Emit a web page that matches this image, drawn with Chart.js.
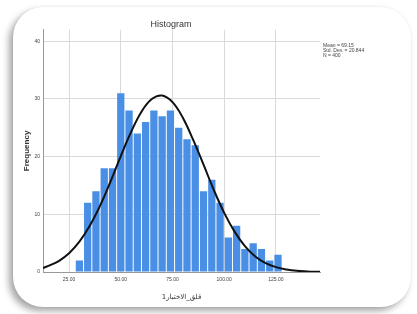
<!DOCTYPE html>
<html>
<head>
<meta charset="utf-8">
<script src="https://cdn.jsdelivr.net/npm/chart.js@4.4.0/dist/chart.umd.min.js"></script>
<style>
  html, body { margin: 0; padding: 0; background: #fff; }
  body { width: 417px; height: 314px; position: relative; overflow: hidden; }
  .card {
    position: absolute; left: 13px; top: 7px; width: 398px; height: 300px;
    background: #fff; border-radius: 30px;
    box-shadow: -4px 4px 7px rgba(0,0,0,0.35), 0 0 2px rgba(0,0,0,0.08);
  }
  #wrap { position: absolute; left: 0; top: 0; width: 417px; height: 314px; }
</style>
</head>
<body>
<div class="card"></div>
<div id="wrap"><canvas id="myChart"></canvas></div>
<script>
// histogram bins (centres) and counts
const binCentres = [30, 34, 38, 42, 46, 50, 54, 58, 62, 66, 70, 74, 78, 82, 86, 90, 94, 98, 102, 106, 110, 114, 118, 122, 126];
const counts = [2, 12, 14, 18, 18, 31, 28, 24, 26, 28, 27, 28, 25, 23, 22, 14, 16, 12, 6, 8, 4, 5, 4, 2, 3];

// normal curve
const curveX = [12.4, 15, 20, 25, 30, 35, 40, 45, 50, 55, 60, 65, 70, 75, 80, 85, 90, 95, 100, 105, 110, 115, 120, 125, 130, 135, 140, 146.3];
const curveY = [0.7, 1.05, 1.9, 3.25, 5.25, 8.0, 11.5, 15.65, 20.1, 24.3, 27.8, 30.0, 30.6, 29.45, 26.75, 22.9, 18.6, 14.2, 10.25, 7.0, 4.5, 2.7, 1.55, 0.85, 0.45, 0.2, 0.1, 0.03];

const xTicks = [25, 50, 75, 100, 125];
const statLines = ['Mean = 69.15', 'Std. Dev. = 20.844', 'N = 400'];

const statsBox = {
    id: 'statsBox',
    afterDraw(chart) {
        const ctx = chart.ctx;
        ctx.save();
        ctx.fillStyle = '#444';
        ctx.font = '5px "Liberation Sans", Arial, sans-serif';
        ctx.textBaseline = 'middle';
        statLines.forEach((t, i) => ctx.fillText(t, chart.chartArea.right + 3, 46 + i * 5));
        ctx.restore();
    }
};

var ctx = document.getElementById('myChart').getContext('2d');

var myChart = new Chart(ctx, {
    data: {
        datasets: [{
            type: 'line',
            data: curveX.map((x, i) => ({ x: x, y: curveY[i] })),
            borderColor: '#111',
            borderWidth: 2,
            pointRadius: 0,
            tension: 0.4,
            fill: false,
            order: 0
        }, {
            type: 'bar',
            data: binCentres.map((x, i) => ({ x: x, y: counts[i] })),
            backgroundColor: '#4a8fe6',
            barPercentage: 0.88,
            categoryPercentage: 1,
            order: 1
        }]
    },
    options: {
        responsive: true,
        maintainAspectRatio: false,
        animation: false,
        layout: { padding: { left: 22, right: 97, top: 0, bottom: 11 } },
        plugins: {
            legend: { display: false },
            tooltip: { enabled: false },
            title: {
                display: true,
                text: 'Histogram',
                color: '#333',
                font: { size: 9, family: '"Liberation Sans", Arial, sans-serif', weight: 'normal' },
                padding: { top: 19, bottom: 0 }
            }
        },
        scales: {
            x: {
                type: 'linear',
                offset: false,
                min: 12.4,
                max: 146.3,
                afterBuildTicks: (axis) => { axis.ticks = xTicks.map(v => ({ value: v })); },
                afterFit: (axis) => { axis.height = 31; },
                ticks: {
                    callback: (v) => Number(v).toFixed(2),
                    font: { size: 5, family: '"Liberation Sans", Arial, sans-serif' },
                    color: '#444',
                    maxRotation: 0,
                    padding: 5
                },
                grid: { color: '#dadada', lineWidth: 1, drawTicks: false, offset: false },
                border: { color: '#999', width: 1 },
                title: {
                    display: true,
                    text: 'قلق_الاختبار1',
                    color: '#333',
                    font: { size: 7, family: '"DejaVu Sans", sans-serif' },
                    padding: { top: 6, bottom: 2 }
                }
            },
            y: {
                min: 0,
                max: 42,
                afterBuildTicks: (axis) => { axis.ticks = [0, 10, 20, 30, 40].map(v => ({ value: v })); },
                afterFit: (axis) => { axis.width = 21; },
                ticks: {
                    font: { size: 5, family: '"Liberation Sans", Arial, sans-serif' },
                    color: '#444',
                    padding: 3
                },
                grid: { color: '#dadada', lineWidth: 1, drawTicks: false },
                border: { color: '#999', width: 1 },
                title: {
                    display: true,
                    text: 'Frequency',
                    color: '#333',
                    font: { size: 8, family: '"Liberation Sans", Arial, sans-serif', weight: 'bold' },
                    padding: { top: 0, bottom: 1 }
                }
            }
        }
    },
    plugins: [statsBox]
});
</script>
</body>
</html>
